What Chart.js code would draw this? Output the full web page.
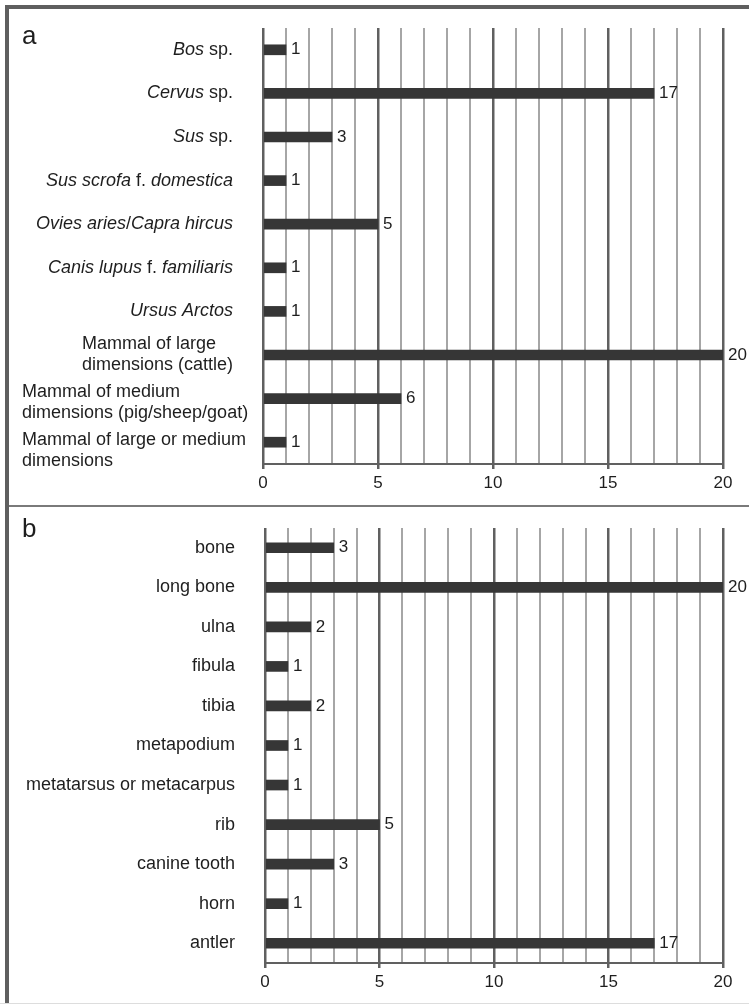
<!DOCTYPE html>
<html><head><meta charset="utf-8">
<script src="https://cdn.jsdelivr.net/npm/chart.js@4.4.1/dist/chart.umd.min.js"></script>
<style>
html,body{margin:0;padding:0;background:#fff;}
body{width:749px;height:1005px;position:relative;overflow:hidden;}
.frame{position:absolute;}
canvas{position:absolute;left:0;}
</style></head><body>
<canvas id="ca" width="749" height="505" style="top:0px"></canvas>
<canvas id="cb" width="749" height="497" style="top:508px"></canvas>
<div class="frame" style="left:5px;top:5px;width:744px;height:4px;background:#5f5f5f"></div>
<div class="frame" style="left:5px;top:5px;width:4px;height:998px;background:#5f5f5f"></div>
<div class="frame" style="left:9px;top:505px;width:740px;height:2px;background:#7a7a7a"></div>
<div class="frame" style="left:0px;top:1003px;width:749px;height:1px;background:#dddddd"></div>
<script>
// ---- data ----
const taxaLabels = [
  "*Bos* sp.",
  "*Cervus* sp.",
  "*Sus* sp.",
  "*Sus scrofa* f. *domestica*",
  "*Ovies aries*/*Capra hircus*",
  "*Canis lupus* f. *familiaris*",
  "*Ursus Arctos*",
  ["Mammal of large", "dimensions (cattle)"],
  ["Mammal of medium", "dimensions (pig/sheep/goat)"],
  ["Mammal of large or medium", "dimensions"]
];
const taxaCounts = [1, 17, 3, 1, 5, 1, 1, 20, 6, 1];

const elementLabels = ["bone", "long bone", "ulna", "fibula", "tibia", "metapodium",
  "metatarsus or metacarpus", "rib", "canine tooth", "horn", "antler"];
const elementCounts = [3, 20, 2, 1, 2, 1, 1, 5, 3, 1, 17];

const axisMin = 0, axisMax = 20, axisStep = 1, labelEvery = 5;

// ---- helpers ----
const FAM = '"Liberation Sans", Arial, Helvetica, sans-serif';
function parseSegs(s){
  return s.split('*').map((t,i)=>({t, it: i%2===1})).filter(o=>o.t.length);
}
function segFont(seg,size){ return (seg.it?'italic ':'')+size+'px '+FAM; }
function measureSegs(ctx,segs,size){
  let w=0; segs.forEach(s=>{ctx.font=segFont(s,size); w+=ctx.measureText(s.t).width;}); return w;
}
function drawSegs(ctx,segs,x,y,size){
  segs.forEach(s=>{ctx.font=segFont(s,size); ctx.fillText(s.t,x,y); x+=ctx.measureText(s.t).width;});
}

const richLabels = {
  id:'richLabels',
  afterDraw(chart, args, o){
    const ctx = chart.ctx, ys = chart.scales.y, area = chart.chartArea;
    const right = area.left - o.gap;
    ctx.save();
    ctx.fillStyle = o.color; ctx.textBaseline = 'middle'; ctx.textAlign = 'left';
    chart.data.labels.forEach((lab,i)=>{
      const cy = ys.getPixelForValue(i) + ((o.shift && o.shift[i]) || 0);
      const lines = Array.isArray(lab) ? lab : [lab];
      const segLines = lines.map(parseSegs);
      const widths = segLines.map(s=>measureSegs(ctx,s,o.size));
      if(lines.length===1){
        drawSegs(ctx, segLines[0], right - widths[0], cy, o.size);
      } else {
        const maxW = Math.max(...widths);
        const left = Math.max(o.minLeft, right - maxW);
        const top = cy - (lines.length-1)*o.lineHeight/2;
        segLines.forEach((s,k)=>drawSegs(ctx, s, left, top + k*o.lineHeight, o.size));
      }
    });
    ctx.font = o.letterSize + 'px ' + FAM;
    ctx.textBaseline = 'alphabetic';
    ctx.fillText(o.letter, o.letterX, o.letterY);
    ctx.restore();
  }
};

const valueLabels = {
  id:'valueLabels',
  afterDatasetsDraw(chart, args, o){
    const ctx = chart.ctx;
    const meta = chart.getDatasetMeta(0);
    const vals = chart.data.datasets[0].data;
    ctx.save();
    ctx.font = o.size + 'px ' + FAM; ctx.fillStyle = o.color;
    ctx.textBaseline = 'middle'; ctx.textAlign = 'left';
    meta.data.forEach((bar,i)=>{ ctx.fillText(String(vals[i]), bar.x + o.gap, bar.y); });
    ctx.restore();
  }
};

function makeChart(id, labels, values, pad, letter, letterY, shift){
  const isMajor = c => c.tick && (c.tick.value % labelEvery === 0);
  return new Chart(document.getElementById(id), {
    type:'bar',
    data:{ labels, datasets:[{ data: values, backgroundColor:'#363636', borderWidth:0, barThickness:10 }] },
    options:{
      indexAxis:'y', responsive:false, animation:false,
      layout:{ padding: pad },
      plugins:{
        legend:{display:false}, tooltip:{enabled:false},
        richLabels:{ gap:30, size:18, color:'#1e1e1e', lineHeight:21, minLeft:22, shift,
          letter, letterSize:26, letterX:22, letterY },
        valueLabels:{ gap:5, size:17, color:'#1e1e1e' }
      },
      scales:{
        x:{
          type:'linear', min:axisMin, max:axisMax,
          afterFit(s){ s.height = 30; },
          ticks:{ stepSize:axisStep, autoSkip:false, maxRotation:0,
            callback: v => (v % labelEvery === 0 ? String(v) : ''),
            font:{ size:17, family:FAM }, color:'#1e1e1e', padding:4 },
          grid:{ color: c => isMajor(c) ? '#606060' : '#a6a6a6',
                 lineWidth: c => isMajor(c) ? 2.5 : 2,
                 tickColor: c => isMajor(c) ? '#606060' : 'rgba(0,0,0,0)',
                 tickLength:5, drawTicks:true },
          border:{ display:true, color:'#606060', width:2 }
        },
        y:{ display:false }
      }
    },
    plugins:[richLabels, valueLabels]
  });
}

makeChart('ca', taxaLabels, taxaCounts, {top:28, bottom:11, left:263, right:26}, 'a', 44, [0,0,0,0,0,0,0,0,4,8]);
makeChart('cb', elementLabels, elementCounts, {top:20, bottom:12, left:265, right:26}, 'b', 29, null);
</script>
</body></html>
